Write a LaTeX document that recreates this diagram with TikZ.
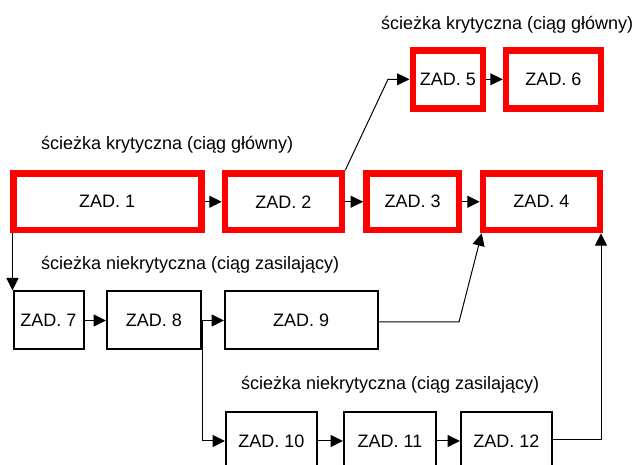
\documentclass[tikz,border=0pt]{standalone}
\usepackage{fontspec}
\setmainfont{Liberation Sans}
\usetikzlibrary{arrows.meta}

\begin{document}
\begin{tikzpicture}[x=1pt,y=-1pt,
  every node/.style={inner sep=0pt,font=\fontsize{18}{21}\selectfont},
  crit/.style={draw=red,line width=6.5pt,minimum height=56.5pt},
  noncrit/.style={draw=black,line width=2pt,minimum height=58pt},
  pathlabel/.style={anchor=west},
  arr/.style={line width=1pt,-{Triangle[length=12.5pt,width=12pt]}}
]
\useasboundingbox (0,0) rectangle (633,465);

% critical path, main row
\node[crit,minimum width=188pt] (z1) at (107.25,201.75) {ZAD. 1};
\node[crit,minimum width=117pt] (z2) at (283.5,201.75) {ZAD. 2};
\node[crit,minimum width=92.7pt] (z3) at (412.7,201.75) {ZAD. 3};
\node[crit,minimum width=117pt] (z4) at (541.5,201.75) {ZAD. 4};

% critical path, upper branch
\node[crit,minimum width=70.3pt,minimum height=58pt] (z5) at (447.9,79.3) {ZAD. 5};
\node[crit,minimum width=95pt,minimum height=58pt] (z6) at (553.5,79.3) {ZAD. 6};

% feeding chains
\node[noncrit,minimum width=70pt] (z7) at (48.5,320.5) {ZAD. 7};
\node[noncrit,minimum width=94pt] (z8) at (154,320.5) {ZAD. 8};
\node[noncrit,minimum width=152.5pt] (z9) at (301.25,320.5) {ZAD. 9};

\node[noncrit,minimum width=91pt] (z10) at (271.5,441) {ZAD. 10};
\node[noncrit,minimum width=92pt] (z11) at (390,441) {ZAD. 11};
\node[noncrit,minimum width=91pt] (z12) at (506.5,441) {ZAD. 12};

% path labels
\node[pathlabel] (l1) at (381,24.5) {ścieżka krytyczna (ciąg główny)};
\node[pathlabel] (l2) at (41,145) {ścieżka krytyczna (ciąg główny)};
\node[pathlabel] (l3) at (41,265) {ścieżka niekrytyczna (ciąg zasilający)};
\node[pathlabel] (l4) at (241,385) {ścieżka niekrytyczna (ciąg zasilający)};

% bend points
\coordinate (k1) at (388,79.3);
\coordinate (k2) at (459,322);
\coordinate (k3) at (601,440);
\coordinate (t4a) at ([xshift=2pt]z4.south west);

% connectors
\draw[arr] (z1) -- (z2);
\draw[arr] (z2) -- (z3);
\draw[arr] (z3) -- (z4);
\draw[arr] (z2.north east) -- (k1) -- (z5.west);
\draw[arr] (z5) -- (z6);
\draw[arr] (z7.north west |- z1.south) -- (z7.north west);
\draw[arr] (z7) -- (z8);
\draw[arr] (z8) -- (z9);
\draw[arr] (z8.east) -- (z8.east |- z10.west) -- (z10.west);
\draw[arr] (z10) -- (z11);
\draw[arr] (z11) -- (z12);
\draw[arr] (z9.east |- k2) -- (k2) -- (t4a);
\draw[arr] (z12.east |- k3) -- (k3) -- (k3 |- z4.south);
\end{tikzpicture}
\end{document}
